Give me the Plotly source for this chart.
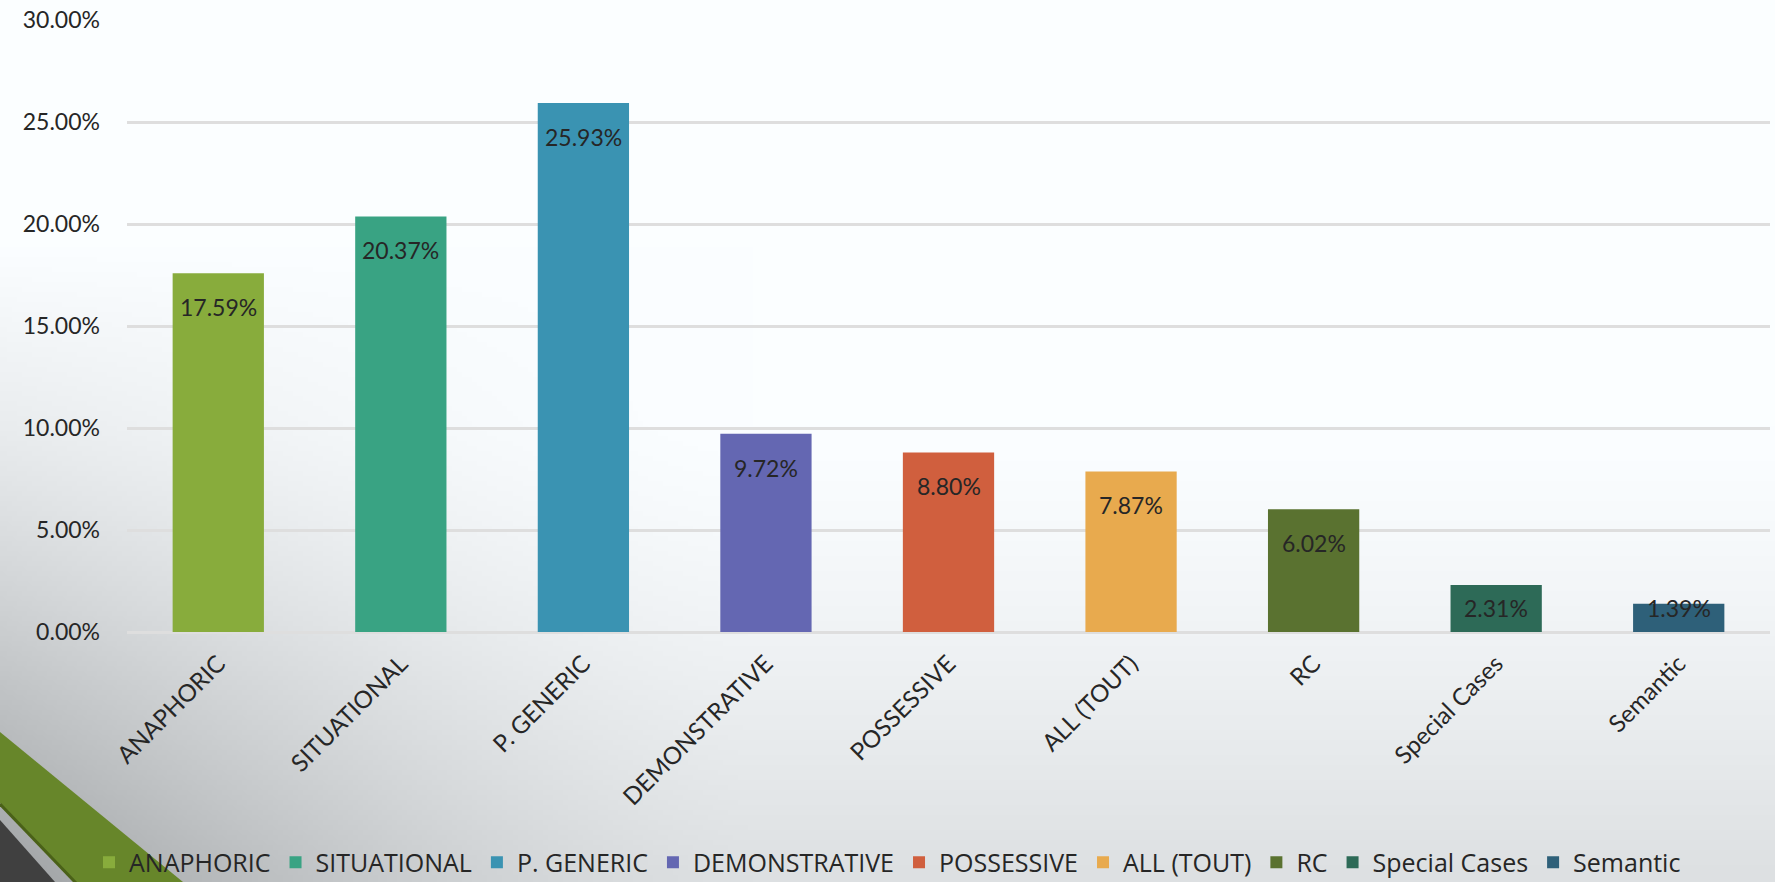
import base64
import struct
import zlib

import numpy as np
import plotly.graph_objects as go

# ---------------- data ----------------
categories = ["ANAPHORIC", "SITUATIONAL", "P. GENERIC", "DEMONSTRATIVE", "POSSESSIVE",
              "ALL (TOUT)", "RC", "Special Cases", "Semantic"]
values = [0.1759, 0.2037, 0.2593, 0.0972, 0.0880, 0.0787, 0.0602, 0.0231, 0.0139]
colors = ["#88AC3C", "#39A383", "#3A93B2", "#6467B2", "#D05F3E",
          "#E8AA4E", "#5A7230", "#2D6A57", "#2E6079"]
y_ticks = [0, 0.05, 0.10, 0.15, 0.20, 0.25, 0.30]

# ---------------- layout geometry ----------------
W, H = 1775, 882
ML, MR, MT, MB = 127, 5, 20, 250
PW, PH = W - ML - MR, H - MT - MB
Y_MAX = 0.30
TEXT = "#262626"


def px(x):
    return (x - ML) / PW


def py(y):
    return 1 - (y - MT) / PH


# ---------------- background gradient image ----------------
def make_png(arr):
    h, w, _ = arr.shape
    raw = b"".join(b"\x00" + arr[r].tobytes() for r in range(h))

    def chunk(tag, data):
        c = tag + data
        return struct.pack(">I", len(data)) + c + struct.pack(">I", zlib.crc32(c) & 0xFFFFFFFF)

    png = b"\x89PNG\r\n\x1a\n"
    png += chunk(b"IHDR", struct.pack(">IIBBBBB", w, h, 8, 2, 0, 0, 0))
    png += chunk(b"IDAT", zlib.compress(raw, 9))
    png += chunk(b"IEND", b"")
    return "data:image/png;base64," + base64.b64encode(png).decode()


SC = 5
gw, gh = W // SC, H // SC + 1
X = (np.arange(gw) + 0.5) * SC
Y = (np.arange(gh) + 0.5) * SC
XX, YY = np.meshgrid(X, Y)
xf = np.clip(1 - XX / 750, 0, 1) ** 1.5
yl = np.clip((YY - 250) / 630, 0, 1)
g = 255 - 62 * xf * yl - 30 * np.clip((YY - 430) / 450, 0, 1) ** 1.3
img = np.stack([np.clip(g - 4, 0, 255), np.clip(g - 1, 0, 255), np.clip(g + 1, 0, 255)], axis=-1)
img = img.astype(np.uint8)
bg_uri = make_png(img)

# ---------------- figure ----------------
fig = go.Figure()
for cat, val, col in zip(categories, values, colors):
    fig.add_trace(go.Bar(x=[cat], y=[val], name=cat, marker=dict(color=col, line=dict(width=0)),
                         width=0.5, hoverinfo="x+y"))

# data labels: inside the top of each bar
annotations = []
for cat, val in zip(categories, values):
    h_px = val / Y_MAX * PH
    off = min(34, max(4, h_px - 24))
    annotations.append(dict(x=cat, y=val, xref="x", yref="y", text=f"{val * 100:.2f}%",
                            showarrow=False, yanchor="middle", yshift=-off,
                            font=dict(family="Lato", size=23, color=TEXT)))


def path(points):
    s = "M" + " L".join(f"{px(a):.5f},{py(b):.5f}" for a, b in points) + " Z"
    return s


shapes = [
    dict(type="path", xref="paper", yref="paper", layer="below",
         path=path([(0, 732), (183, 882), (75, 882), (0, 803)]),
         fillcolor="#67862A", line=dict(width=0)),
    dict(type="line", xref="paper", yref="paper", layer="below",
         x0=px(0), y0=py(804), x1=px(76), y1=py(883),
         line=dict(color="#4A6118", width=3)),
    dict(type="path", xref="paper", yref="paper", layer="below",
         path=path([(0, 820), (55, 882), (0, 882)]),
         fillcolor="#404040", line=dict(width=0)),
]

fig.update_layout(
    width=W, height=H,
    margin=dict(l=ML, r=MR, t=MT, b=MB, pad=0),
    paper_bgcolor="white",
    plot_bgcolor="rgba(0,0,0,0)",
    barmode="overlay",
    showlegend=True,
    legend=dict(orientation="h", xref="container", yref="container", x=0.5, xanchor="center",
                y=0.022, yanchor="middle", bgcolor="rgba(0,0,0,0)",
                font=dict(family="Open Sans", size=25, color=TEXT),
                itemwidth=30, traceorder="normal", itemclick=False),
    images=[dict(source=bg_uri, xref="paper", yref="paper", x=px(0), y=py(0),
                 sizex=W / PW, sizey=H / PH, xanchor="left", yanchor="top",
                 sizing="stretch", layer="below")],
    shapes=shapes,
    annotations=annotations,
    xaxis=dict(showgrid=False, showline=False, zeroline=False, ticks="",
               tickangle=-45, tickfont=dict(family="Lato", size=24, color=TEXT),
               ticklabelstandoff=12),
    yaxis=dict(range=[0, Y_MAX], tickvals=y_ticks, tickformat=".2%",
               showgrid=True, gridcolor="#DEDEDE", gridwidth=2.5,
               zeroline=True, zerolinecolor="#DEDEDE", zerolinewidth=2.5,
               showline=False, ticks="", ticklabelstandoff=26,
               tickfont=dict(family="Lato", size=23, color=TEXT)),
)

fig.write_html("out.html")
